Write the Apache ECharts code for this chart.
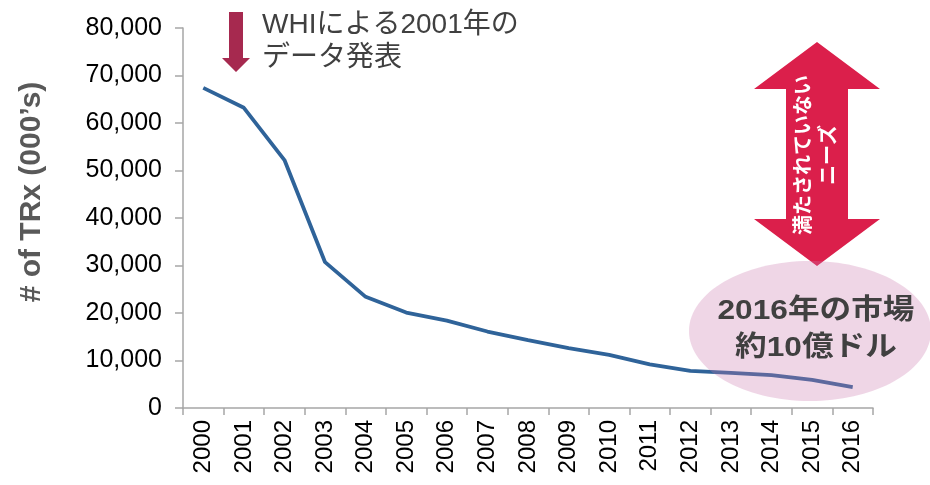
<!DOCTYPE html>
<html>
<head>
<meta charset="utf-8">
<script src="https://cdn.jsdelivr.net/npm/echarts@6/dist/echarts.min.js"></script>
<style>
html,body{margin:0;padding:0;background:#fff;}
#chart{width:930px;height:485px;}
</style>
</head>
<body>
<div id="chart"></div>
<script>
const years = ['2000','2001','2002','2003','2004','2005','2006','2007','2008','2009','2010','2011','2012','2013','2014','2015','2016'];
const trx = [67400, 63200, 52200, 30700, 23400, 20100, 18400, 16100, 14300, 12600, 11200, 9200, 7800, 7400, 6900, 5900, 4400];
const yTicks = [0, 10000, 20000, 30000, 40000, 50000, 60000, 70000, 80000];
const yTitle = "# of TRx (000’s)";
const noteText = 'WHIによる2001年の\nデータ発表';
const arrowText = '満たされていない\nニーズ';
const bubbleText = '2016年の市場\n約10億ドル';

const FONT = "'Liberation Sans', Arial, 'Noto Sans CJK JP', sans-serif";
const chart = echarts.init(document.getElementById('chart'));

function txt(x, y, text, style, extra) {
  return Object.assign({
    type: 'text', x: x, y: y, z: 20,
    style: Object.assign({
      text: text, fontFamily: FONT,
      align: 'center', verticalAlign: 'middle',
      textAlign: 'center', textVerticalAlign: 'middle'
    }, style)
  }, extra || {});
}

chart.setOption({
  animation: false,
  grid: { left: 183, right: 57, top: 28, bottom: 77, containLabel: false },
  xAxis: {
    type: 'category',
    data: years,
    boundaryGap: true,
    axisLine: { lineStyle: { color: '#a6a6a6', width: 1.5 } },
    axisTick: { show: true, length: 7, alignWithLabel: false, lineStyle: { color: '#a6a6a6', width: 1.5 } },
    axisLabel: { rotate: 90, margin: 12, fontSize: 24, color: '#000', fontFamily: FONT, interval: 0 }
  },
  yAxis: {
    type: 'value',
    min: yTicks[0], max: yTicks[yTicks.length - 1], interval: yTicks[1] - yTicks[0],
    axisLine: { show: true, lineStyle: { color: '#a6a6a6', width: 1.5 } },
    axisTick: { show: true, length: 8, lineStyle: { color: '#a6a6a6', width: 1.5 } },
    splitLine: { show: false },
    axisLabel: {
      margin: 21, fontSize: 25, color: '#000', fontFamily: FONT,
      formatter: v => v.toLocaleString('en-US')
    }
  },
  series: [{
    type: 'line',
    data: trx,
    showSymbol: false,
    symbol: 'none',
    lineStyle: { color: '#2f6399', width: 3.8 },
    z: 2
  }],
  graphic: [
    // y-axis title
    txt(32, 192, yTitle, { fontSize: 30, fontWeight: 'bold', fill: '#595959' }, { rotation: Math.PI / 2 }),
    // small down arrow (WHI annotation)
    { type: 'polygon', z: 20,
      shape: { points: [[229,12],[243,12],[243,58],[250,58],[236,72],[222,58],[229,58]] },
      style: { fill: '#a6294f' } },
    txt(262, 42, noteText, { fontSize: 28, fill: '#404040', lineHeight: 33, align: 'left', textAlign: 'left' }),
    // double arrow
    { type: 'polygon', z: 15,
      shape: { points: [[817,42],[880,89],[848,89],[848,219],[880,219],[817,266],[754,219],[786,219],[786,89],[754,89]] },
      style: { fill: '#db1f4b' } },
    txt(817, 155, arrowText, { fontSize: 20, fontWeight: 'bold', fill: '#ffffff', lineHeight: 25 }, { rotation: Math.PI / 2 }),
    // ellipse
    { type: 'ellipse', z: 18,
      shape: { cx: 810, cy: 331, rx: 121, ry: 70 },
      style: { fill: 'rgba(203,120,172,0.3)' } },
    txt(816, 330, bubbleText, { fontSize: 28, fontWeight: 'bold', fill: '#404040', lineHeight: 37 }, { scaleX: 1.13 })
  ]
});
</script>
</body>
</html>
